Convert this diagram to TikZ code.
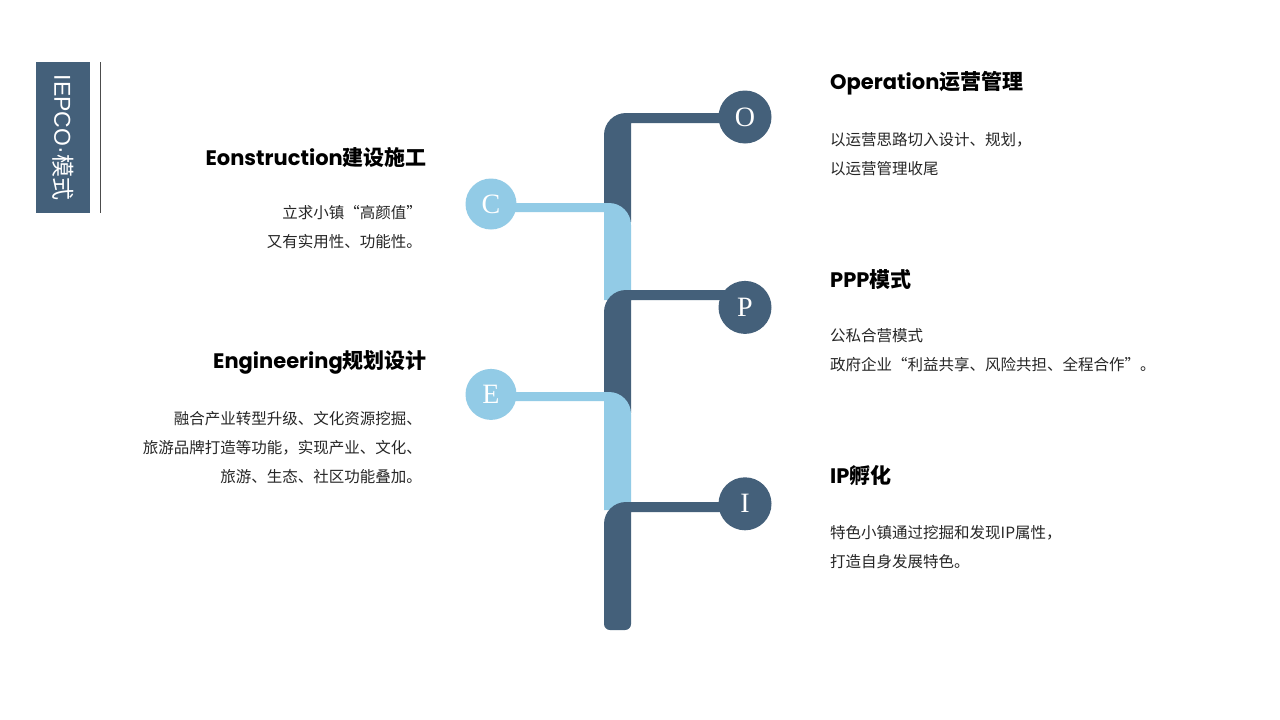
\documentclass[tikz,border=0pt]{standalone}
\usepackage{fontspec}
\setmainfont{Noto Sans CJK SC}
\newfontfamily\latnfont{Poppins}
\newfontfamily\ttlfont{Liberation Sans}
\newfontfamily\circfont{Liberation Serif}
\usetikzlibrary{positioning,backgrounds}
\definecolor{slate}{HTML}{44607A}
\definecolor{sky}{HTML}{92CBE6}
\definecolor{bodytxt}{HTML}{262626}
\tikzstyle{dcirc}=[circle,fill=slate,minimum size=53pt,inner sep=0pt,
text=white,font=\circfont\fontsize{28}{28}\selectfont]
\tikzstyle{lcirc}=[circle,fill=sky,minimum size=51pt,inner sep=0pt,
text=white,font=\circfont\fontsize{28}{28}\selectfont]
\tikzstyle{dseg}=[fill=slate]
\tikzstyle{lseg}=[fill=sky]
\tikzstyle{head}=[inner sep=0pt,font=\bfseries\fontsize{21}{25}\selectfont]
\tikzstyle{body}=[inner sep=0pt,text=bodytxt,font=\fontsize{15.5}{29}\selectfont]
\tikzstyle{titlebox}=[fill=slate,text=white,rotate=-90,minimum width=151pt,
minimum height=54pt,inner sep=0pt,font=\fontsize{23}{23}\selectfont]
\newcommand{\lat}[1]{{\latnfont #1}}

\begin{document}
\begin{tikzpicture}[x=1pt,y=-1pt]
            \useasboundingbox (0,0) rectangle (1280,720);

            % TITLE PART

            \node[titlebox] (ttl) at (63,137.5) {{\ttlfont IEPCO·}模式};
            \draw[black!70,line width=0.8pt] (100,62) -- (100,213);

            % CIRCLES

            \node[dcirc] (o) at (745,117) {O};
            \node[dcirc, below=137pt of o] (p) {P};
            \node[dcirc, below=143pt of p] (i) {I};
            \node[lcirc] (c) at (491,204) {C};
            \node[lcirc, below=139pt of c] (e) {E};

            % TRUNK PART

            \begin{pgfonlayer}{background}
            \fill[white] (0,0) rectangle (1280,720);
            \fill[dseg] (631,222) -- (604,222) -- (604,135) arc[start angle=180,end angle=270,radius=22]
                -- (o.center |- 0,113) -- (o.center |- 0,123) -- (631,123) -- cycle;
            \fill[lseg] (604,300) -- (631,300) -- (631,225) arc[start angle=0,end angle=-90,radius=22]
                -- (c.center |- 0,203) -- (c.center |- 0,212) -- (604,212) -- cycle;
            \fill[dseg] (631,413) -- (604,413) -- (604,312) arc[start angle=180,end angle=270,radius=22]
                -- (p.center |- 0,290) -- (p.center |- 0,300) -- (631,300) -- cycle;
            \fill[lseg] (604,510) -- (631,510) -- (631,414) arc[start angle=0,end angle=-90,radius=22]
                -- (e.center |- 0,392) -- (e.center |- 0,401) -- (604,401) -- cycle;
            \fill[dseg] (631,512) -- (631,624) arc[start angle=0,end angle=90,radius=6]
                -- (610,630) arc[start angle=90,end angle=180,radius=6]
                -- (604,524) arc[start angle=180,end angle=270,radius=22]
                -- (i.center |- 0,502) -- (i.center |- 0,512) -- cycle;
            \end{pgfonlayer}

            % LEFT TEXTS

            \node[head, anchor=east] (ch) at (427,157) {\lat{Eonstruction}建设施工};
            \node[body, anchor=east, align=right] (cb) at (422,227.5) {立求小镇“高颜值”\\又有实用性、功能性。};
            \node[head, anchor=east] (eh) at (427,362) {\lat{Engineering}规划设计};
            \node[body, anchor=east, align=right] (eb) at (422,448) {融合产业转型升级、文化资源挖掘、\\旅游品牌打造等功能，实现产业、文化、\\旅游、生态、社区功能叠加。};

            % RIGHT TEXTS

            \node[head, anchor=west] (oh) at (830,83) {\lat{Operation}运营管理};
            \node[body, anchor=west, align=left] (ob) at (830,154) {以运营思路切入设计、规划，\\以运营管理收尾};
            \node[head, anchor=west] (ph) at (830,279) {\lat{PPP}模式};
            \node[body, anchor=west, align=left] (pb) at (830,350.5) {公私合营模式\\政府企业“利益共享、风险共担、全程合作”。};
            \node[head, anchor=west] (ih) at (830,476) {\lat{IP}孵化};
            \node[body, anchor=west, align=left] (ib) at (830,547.5) {特色小镇通过挖掘和发现IP属性，\\打造自身发展特色。};

\end{tikzpicture}
\end{document}
